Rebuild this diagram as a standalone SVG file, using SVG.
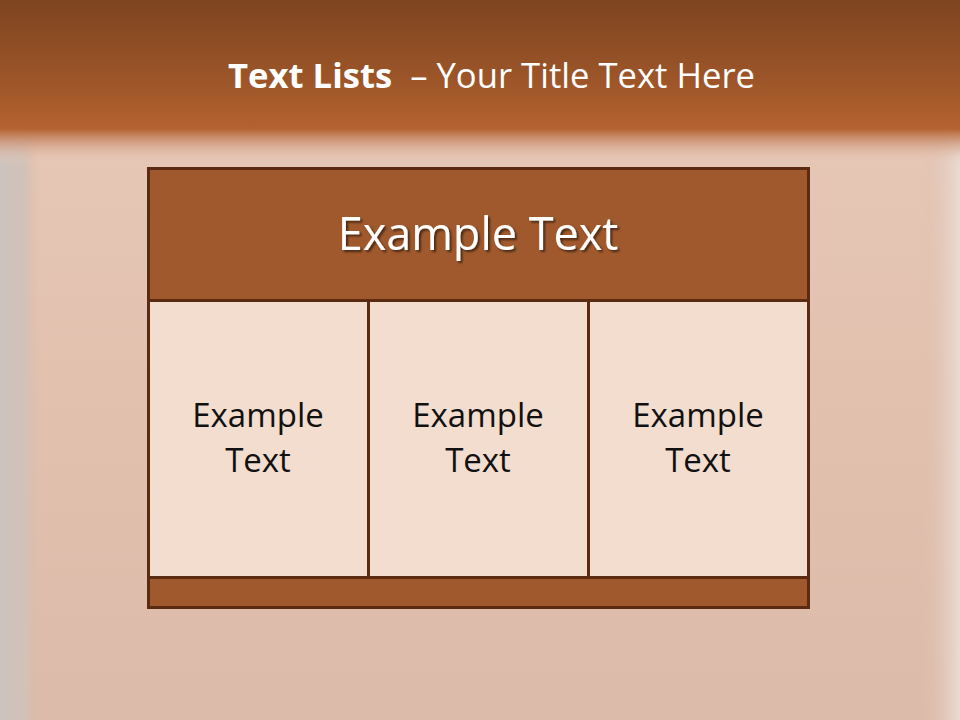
<svg xmlns="http://www.w3.org/2000/svg" width="960" height="720" viewBox="0 0 960 720">
<defs>
<linearGradient id="bg" x1="0" y1="0" x2="0" y2="1">
<stop offset="0" stop-color="#e8cbbb"/>
<stop offset="0.5" stop-color="#e2c1af"/>
<stop offset="1" stop-color="#dcbbaa"/>
</linearGradient>
<linearGradient id="top" x1="0" y1="0" x2="0" y2="1">
<stop offset="0" stop-color="#7e4420"/>
<stop offset="0.45" stop-color="#9a5428"/>
<stop offset="0.78" stop-color="#b4622f"/>
<stop offset="0.86" stop-color="#cd9476" stop-opacity="0.8"/>
<stop offset="1" stop-color="#ecd0c2" stop-opacity="0"/>
</linearGradient>
<linearGradient id="side" x1="0" y1="0" x2="1" y2="0">
<stop offset="0" stop-color="#cdc3be"/>
<stop offset="0.6" stop-color="#d1c2b9"/>
<stop offset="1" stop-color="#ddbcab" stop-opacity="0"/>
</linearGradient>
<linearGradient id="rside" x1="1" y1="0" x2="0" y2="0">
<stop offset="0" stop-color="#eadcd3"/>
<stop offset="1" stop-color="#ddbcab" stop-opacity="0"/>
</linearGradient>
<filter id="sh" x="-10%" y="-20%" width="130%" height="150%">
<feDropShadow dx="2" dy="2" stdDeviation="1.2" flood-color="#000" flood-opacity="0.55"/>
</filter>
</defs>
<style>
.box{stroke:#5a2b10;stroke-width:3}
.dark{fill:#a0592c}
.light{fill:#f3ddcf}
.t{font-family:"Open Sans","Noto Sans",sans-serif;text-anchor:middle}
.cell{font-size:33px;fill:#111}
</style>
<rect width="960" height="720" fill="url(#bg)"/>
<rect x="0" y="0" width="40" height="720" fill="url(#side)"/>
<rect x="920" y="0" width="40" height="720" fill="url(#rside)"/>
<rect x="0" y="0" width="960" height="165" fill="url(#top)"/>
<text x="491.5" y="88" class="t" font-size="34" fill="#ffffff" textLength="527" lengthAdjust="spacingAndGlyphs" xml:space="preserve"><tspan font-weight="bold">Text Lists</tspan><tspan>  – Your Title Text Here</tspan></text>
<g id="header">
<rect class="box dark" x="148.5" y="168.5" width="660" height="132"/>
<text x="478" y="250" class="t" font-size="45" fill="#ffffff" filter="url(#sh)">Example Text</text>
</g>
<g id="cell1">
<rect class="box light" x="148.5" y="300.5" width="220" height="277"/>
<text x="258" y="427" class="t cell">Example</text>
<text x="258" y="472" class="t cell">Text</text>
</g>
<g id="cell2">
<rect class="box light" x="368.5" y="300.5" width="220" height="277"/>
<text x="478" y="427" class="t cell">Example</text>
<text x="478" y="472" class="t cell">Text</text>
</g>
<g id="cell3">
<rect class="box light" x="588.5" y="300.5" width="220" height="277"/>
<text x="698" y="427" class="t cell">Example</text>
<text x="698" y="472" class="t cell">Text</text>
</g>
<g id="footer">
<rect class="box dark" x="148.5" y="577.5" width="660" height="30"/>
</g>
<g id="connectors"/>
</svg>
